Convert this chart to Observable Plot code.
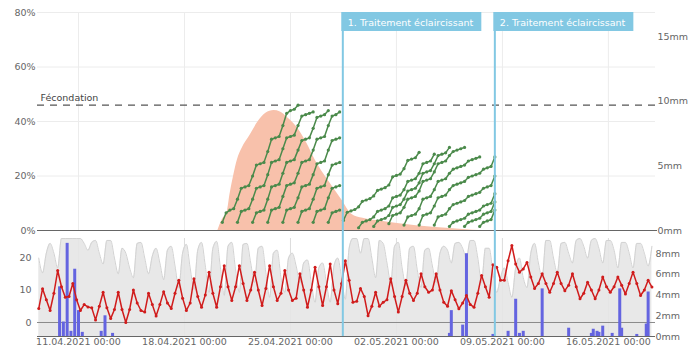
<!DOCTYPE html>
<html><head><meta charset="utf-8">
<script src="https://cdn.jsdelivr.net/npm/d3@7"></script>
<script src="https://cdn.jsdelivr.net/npm/@observablehq/plot@0.6"></script>
<style>
body{margin:0;background:#fff;font-family:"DejaVu Sans",sans-serif;}
#chart{position:relative;width:690px;height:357px;overflow:hidden}
#chart svg{display:block}
</style></head><body><div id="chart"></div>
<script>
// ---------- data ----------
const weekTickDates = ["2021-04-11","2021-04-18","2021-04-25","2021-05-02","2021-05-09","2021-05-16"];
const yTicksPct = [0, 0.2, 0.4, 0.6, 0.8];
const mmTicksTop = [0, 5, 10, 15];
const tempTicks = [0, 10, 20];
const mmTicksBottom = [0, 2, 4, 6, 8];
const fecondationLevel = 0.46;
const fecondationLabel = "Fécondation";

const treatmentTimes = ["2021-04-28T11:00Z", "2021-05-08T12:00Z"];
const treatmentLabels = ["1. Traitement éclaircissant", "2. Traitement éclaircissant"];

// pink area (%)
const pinkTimes = ["2021-04-20T05:00","2021-04-20T12:00","2021-04-20T20:00","2021-04-21T00:00","2021-04-21T05:00","2021-04-21T12:00","2021-04-21T19:00","2021-04-22T08:00","2021-04-22T21:00","2021-04-23T09:00","2021-04-23T22:00","2021-04-24T08:00","2021-04-24T19:00","2021-04-25T10:00","2021-04-26T02:00","2021-04-26T15:00","2021-04-27T04:00","2021-04-27T19:00","2021-04-28T10:00","2021-04-29T01:00","2021-04-29T19:00","2021-04-30T22:00","2021-05-02T05:00","2021-05-04T10:00","2021-05-06T15:00","2021-05-07T12:00"];
const pinkValues = [0,4,7,13,19,26,30,35,40,43,44,43.5,41.5,38,32,26,21,16,11,6,4.5,3.5,2.5,1.2,0.3,0];

// green cohort lines (%), one value every 6 h from start
const cohortStarts = ["2021-04-20T12:00","2021-04-21T12:00","2021-04-22T12:00","2021-04-23T12:00","2021-04-24T12:00","2021-04-25T12:00","2021-04-26T12:00","2021-04-27T12:00",
  "2021-04-28T12:00","2021-04-29T12:00","2021-04-30T12:00","2021-05-01T12:00","2021-05-02T12:00","2021-05-03T12:00","2021-05-04T12:00","2021-05-05T12:00","2021-05-06T12:00","2021-05-07T12:00"];
const cohortValues = [
  [3,6.5,7.5,8,11.5,15.5,16,16.5,20,24,24.5,25,29,33.5,34,34.5,38.5,43,44,44.5,46],
  [3,7,7.5,8,11.5,15.5,16,16.5,20.5,25,25.5,26,30,34,34.5,35,38.5,42,42.5,43,43.5],
  [3,6.5,7,7.5,11.5,16,16.5,17,21,25,25.5,26,29.5,33,33.5,34,37.5,41.5,42,42.5,44],
  [3,7.5,8,8.5,12.5,16.5,17,17.5,21,25,25.5,26,29.5,33.5,34,34.5,38.5,42,42.5,43.5],
  [3,7.5,8,8.5,12,16,16.5,17,20.5,24.5,25,25.5,29.5,33,33.5,34],
  [3,7,7.5,8,11.5,15.5,16,16.5,20.5,24,24.5,25],
  [3,7,7.5,8,12,15.5,16,16.5],
  [3,6.5,7,7.5],
  [3.7,6.7,7.2,7.7,8.7,10.7,11.2,11.7,12.7,14.7,15.2,15.7,16.7,19.7,20.2,20.7,22.7,25.7,26.2,26.7,28.7],
  [1,3,3.5,4,5,7,7.5,8,9,12,12.5,13,15,18,18.5,19,21,24.5,25,25.5,28],
  [1.5,3.5,4,4.5,5.5,8.5,9,9.5,11.5,14.5,15,15.5,17.5,21,21.5,22,24.5,27.5,28,28.5,30.5],
  [2.5,5.5,6,6.5,8.5,11.5,12,12.5,14.5,18,18.5,19,21.5,24.5,25,25.5,27.5,29,29.5,30,30.5],
  [2,5,5.5,6,8,11.5,12,12.5,15,18,18.5,19,21,22.5,23,23.5,24,25.5,26,26.5,27],
  [2,5.5,6,6.5,9,12,12.5,13,15,16.5,17,17.5,18,19.5,20,20.5,21,22.5,23,23.5,27],
  [2,5,5.5,6,8,9.5,10,10.5,11,12.5,13,13.5,14,15.5,16,16.5,20],
  [1.5,3,3.5,4,4.5,6,6.5,7,7.5,9,9.5,10,13.5],
  [1.5,3,3.5,4,4.5,6,6.5,7,10.5],
  [1.5,3,3.5,4,7.5]
];

// weather, one value every 6 h from 08.04 09:00
const weatherStart = "2021-04-08T09:00";
const temperature = [
  4.3,10.4,7,
  3.7,9,16,11, 7.8,8,12,7, 3.7,5.5,4.8,4.5, 0.8,5,9.3,4.5, 1.2,4,9.3,4, 0,4,10,6, 3.7,3.2,9,5.5,
  2,5.5,9.5,6, 4.3,9,13,7.5, 3.7,6,13.5,8, 4.7,8.5,15.5,9, 4.7,11,17.5,11, 6.8,11,17.5,12, 6.8,10,15.5,10,
  5.2,10.5,17.5,11, 6.8,9,16,10, 6.8,7.5,15,10, 4.7,10,17,11, 5.2,11,18,10, 5.8,12,19,13, 6.2,6.5,10.5,8,
  2.1,5,9.3,5, 6.2,7,13.5,8, 3.2,8,13,9, 6.8,9,15,11, 9.3,10,15,10, 6.2,5,9.8,7, 4.2,6,8.3,5.5,
  4.7,9,14.5,11, 7.8,17.8,17,13, 13,19,23.7,18, 15.5,16.5,18.5,14, 10.5,12,15,12, 9.3,12,15.5,12, 9.8,11.5,15,11,
  7.3,9,12.4,10, 7.3,10,14,11, 9.3,11,14,11.5, 8.8,12,15.5,12, 8.3,10,13,10.9
];
const humidity = [
  80,65,85,
  95,85,70,100, 100,100,100,100, 100,95,88,96, 98,85,74,98, 98,80,64,90, 85,70,60,95, 96,80,64,82,
  90,75,58,88, 92,72,50,85, 94,70,48,88, 96,72,45,90, 97,70,42,92, 96,68,45,94, 95,75,55,90,
  92,65,40,85, 88,60,45,80, 85,72,55,75, 78,55,35,70, 75,55,35,72, 80,60,38,90, 100,100,85,100,
  100,80,60,98, 95,75,55,92, 96,70,52,90, 92,68,50,88, 90,72,55,85, 92,88,75,95, 96,90,80,98,
  98,80,55,90, 90,65,45,60, 70,55,40,70, 80,60,50,85, 95,75,60,98, 98,80,65,95, 96,85,75,98,
  100,92,80,98, 100,90,75,98, 98,88,70,96, 96,85,70,95, 95,85,72,92
];

// rain (mm)
const rainTimes = ["2021-04-09T18:00","2021-04-10T00:00","2021-04-10T06:00","2021-04-10T12:00","2021-04-10T18:00","2021-04-11T00:00","2021-04-11T06:00","2021-04-12T12:00","2021-04-12T18:00","2021-04-13T06:00",
  "2021-05-05T12:00","2021-05-05T15:00","2021-05-06T09:00","2021-05-06T15:00","2021-05-08T09:00","2021-05-09T09:00","2021-05-09T21:00","2021-05-10T03:00","2021-05-10T09:00","2021-05-11T15:00",
  "2021-05-13T09:00","2021-05-14T21:00","2021-05-15T00:00","2021-05-15T06:00","2021-05-15T09:00","2021-05-15T15:00","2021-05-16T06:00","2021-05-16T18:00","2021-05-16T21:00","2021-05-17T21:00","2021-05-18T12:00","2021-05-18T15:00"];
const rainMM = [4.8,1.4,9.0,0.5,6.5,2.5,0.4,0.5,2.0,0.3,
  0.3,2.5,1.1,8.0,0.2,0.5,3.6,0.3,0.5,4.6,
  0.8,0.3,0.7,0.5,0.4,1.0,0.3,4.6,0.8,0.2,1.2,4.3];

// ---------- build ----------
const H6 = 6*3600*1000;
const utc = s => new Date(s.endsWith("Z") ? s : s + "Z");
const xDomain = [utc("2021-04-08T07:00"), utc("2021-05-19T02:40")];
const weekTicks = weekTickDates.map(d => utc(d + "T00:00"));
const fmt = d3.utcFormat("%d.%m.%Y %H:%M");

const pink = pinkTimes.map((t,i) => ({t: utc(t), v: pinkValues[i]/100}));
const green = cohortStarts.flatMap((s,k) => cohortValues[k].map((v,i) => ({id:k, t: new Date(+utc(s) + i*H6), v: v/100})));
const wx = temperature.map((v,i) => ({t: new Date(+utc(weatherStart) + i*H6), v, h: humidity[i]}));
const rain = rainTimes.map((t,i) => ({t: utc(t), mm: rainMM[i]}));
const treatments = treatmentTimes.map((t,i) => ({t: utc(t), label: treatmentLabels[i]}));

const MM_TOP = 0.0474;              // 1 mm on the top panel, as a share
const yB = [-4.31, 25.85];          // bottom panel temperature domain
const mmToT = mm => yB[0] + mm*3.185;
const humToT = h => yB[0] + h*(yB[1]-yB[0])/100;

const TBLUE = "#82c8e3";
const style = {fontFamily:"DejaVu Sans, sans-serif", fontSize:"9.5px", color:"#666", background:"transparent", overflow:"visible"};

const topPlot = Plot.plot({
  width: 690, height: 237, marginLeft: 37, marginRight: 35, marginTop: 12, marginBottom: 7,
  style,
  x: {type:"utc", domain: xDomain, axis: null},
  y: {domain: [0, 0.8], axis: null},
  marks: [
    Plot.gridY(yTicksPct.slice(1), {stroke:"#ececec", strokeOpacity:1}),
    Plot.gridX(weekTicks, {stroke:"#ececec", strokeOpacity:1}),
    Plot.areaY(pink, {x:"t", y:"v", fill:"#f8c1ab", curve:"monotone-x"}),
    Plot.ruleY([fecondationLevel], {stroke:"#555", strokeWidth:1.2, strokeDasharray:"7,6"}),
    Plot.text([fecondationLabel], {x: () => xDomain[0], y: () => fecondationLevel, text: d => d, textAnchor:"start", lineAnchor:"bottom", dx:3, dy:-4, fill:"#444", fontSize:9.5}),
    Plot.line(green, {x:"t", y:"v", z:"id", stroke:"#4b8a4b", strokeWidth:1.5}),
    Plot.dot(green, {x:"t", y:"v", r:1.6, fill:"#4b8a4b", stroke:"none"}),
    Plot.ruleY([0], {stroke:"#666", strokeWidth:1.2, insetRight:-2}),
    Plot.ruleX(treatments, {x:"t", stroke:TBLUE, strokeWidth:2, insetBottom:-7}),
    Plot.rect(treatments, {x1:"t", x2:"t", y1: () => 0.8, y2: () => 0.8, insetLeft:-1, insetRight:-139, insetBottom:-19, fill:TBLUE}),
    Plot.text(treatments, {x:"t", y: () => 0.8, text:"label", textAnchor:"start", lineAnchor:"middle", dx:5, dy:10, fill:"white", fontSize:9.5}),
    Plot.axisY(yTicksPct, {anchor:"left", label:null, tickSize:0, tickPadding:2, tickFormat: d3.format(".0%"), fill:"#666"}),
    Plot.axisY(mmTicksTop.map(m => m*MM_TOP), {anchor:"right", label:null, tickSize:0, tickPadding:2, tickFormat: d => Math.round(d/MM_TOP) + "mm", fill:"#666"})
  ]
});

const bottomPlot = Plot.plot({
  width: 690, height: 120, marginLeft: 37, marginRight: 35, marginTop: 1, marginBottom: 21,
  style,
  x: {type:"utc", domain: xDomain, axis: null},
  y: {domain: yB, axis: null},
  marks: [
    Plot.gridX(weekTicks, {stroke:"#dcdcdc", strokeOpacity:1}),
    Plot.areaY(wx, {x:"t", y1: () => yB[0], y2: d => humToT(d.h), fill:"#e6e6e6", fillOpacity:0.9, curve:"monotone-x"}),
    Plot.line(wx, {x:"t", y: d => humToT(d.h), stroke:"#d2d2d2", strokeWidth:1, curve:"monotone-x"}),
    Plot.ruleY([0], {stroke:"#8a8a8a", strokeWidth:1}),
    Plot.ruleY([yB[0]], {stroke:"#666", strokeWidth:1.2}),
    Plot.ruleX(rain, {x:"t", y1: () => yB[0], y2: d => mmToT(d.mm), stroke:"#6464e0", strokeWidth:3}),
    Plot.line(wx, {x:"t", y:"v", stroke:"#d01c1c", strokeWidth:1.5}),
    Plot.dot(wx, {x:"t", y:"v", r:1.5, fill:"#d01c1c", stroke:"none"}),
    Plot.ruleX(treatments, {x:"t", stroke:TBLUE, strokeWidth:2, insetTop:-1}),
    Plot.axisX(weekTicks, {anchor:"bottom", label:null, tickSize:0, tickPadding:2, tickFormat: fmt, fill:"#666"}),
    Plot.axisY(tempTicks, {anchor:"left", label:null, tickSize:0, tickPadding:6, fill:"#666"}),
    Plot.axisY(mmTicksBottom.map(mmToT), {anchor:"right", label:null, tickSize:0, tickPadding:0, tickFormat: d => Math.round((d - yB[0])/3.185) + "mm", fill:"#666"})
  ]
});

const root = document.getElementById("chart");
root.appendChild(topPlot);
root.appendChild(bottomPlot);
</script>
</body></html>
